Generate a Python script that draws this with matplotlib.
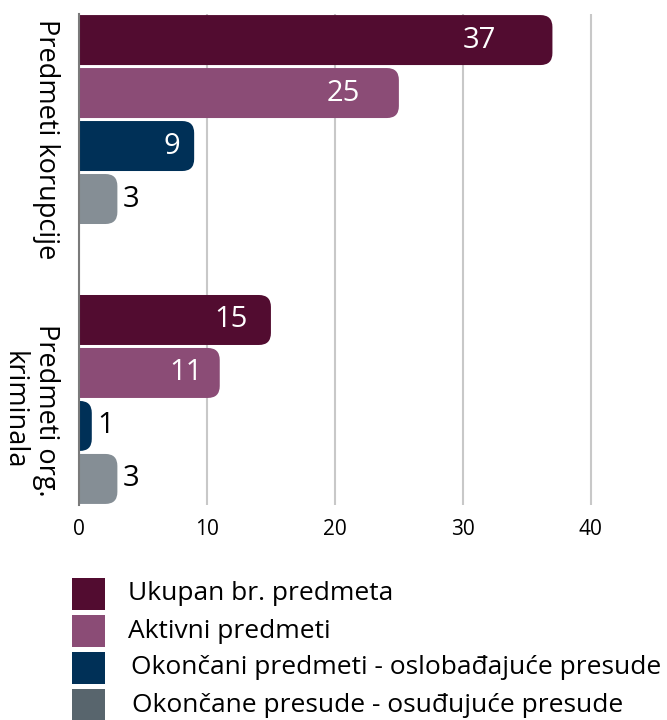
import numpy as np
import matplotlib
matplotlib.use("Agg")
import matplotlib.pyplot as plt
from matplotlib.patches import FancyBboxPatch, Rectangle

plt.rcParams["font.family"] = ["Open Sans", "DejaVu Sans"]

# data
groups = ["Predmeti korupcije", "Predmeti org.\nkriminala"]
series = [
    "Ukupan br. predmeta",
    "Aktivni predmeti",
    "Okončani predmeti - oslobađajuće presude",
    "Okončane presude - osuđujuće presude",
]
values = [
    [37, 15],
    [25, 11],
    [9, 1],
    [3, 3],
]
bar_colors = ["#520c30", "#8b4c76", "#003057", "#858e95"]
legend_colors = ["#520c30", "#8b4c76", "#003057", "#58656d"]
x_ticks = [0, 10, 20, 30, 40]

W, H = 667, 720
fig = plt.figure(figsize=(W / 100, H / 100), dpi=100)
ax_left, ax_right, ax_top, ax_bot = 79, 642, 14, 505
ax = fig.add_axes([ax_left / W, 1 - ax_bot / H, (ax_right - ax_left) / W, (ax_bot - ax_top) / H])

xmax = 44
ylim = (1.377, -0.377)
ax.set_xlim(0, xmax)
ax.set_ylim(*ylim)

slot = 53 / 280
bar_h = 50 / 280
px_x = (ax_right - ax_left) / xmax              # pixels per x unit
px_y = (ax_bot - ax_top) / (ylim[0] - ylim[1])  # pixels per y unit
radius_px = 12
r = radius_px / px_x
aspect = px_x / px_y

for i, (name, vals) in enumerate(zip(series, values)):
    for g, v in enumerate(vals):
        yc = g + (i - 1.5) * slot
        y0 = yc - bar_h / 2
        # box starts left of the axis so only the right corners show rounded
        box = FancyBboxPatch((-r, y0), v + r, bar_h,
                             boxstyle=f"round,pad=0,rounding_size={r}",
                             mutation_aspect=aspect, fc=bar_colors[i],
                             ec="none", zorder=3)
        ax.add_patch(box)
        if v >= 5:
            ax.text(0.88 * v, yc, str(v), ha="right", va="center",
                    color="white", fontsize=21, zorder=4)
        else:
            ax.text(v + 0.4, yc, str(v), ha="left", va="center",
                    color="black", fontsize=21, zorder=4)

ax.set_xticks(x_ticks)
ax.set_xticklabels([str(t) for t in x_ticks], fontsize=15)
ax.tick_params(axis="x", length=0, pad=10)
ax.grid(axis="x", color="#c8c8c8", lw=1.5, zorder=0)
ax.set_axisbelow(True)

ax.set_yticks([0.07, 1.04])
ax.set_yticklabels(groups, rotation=-90, fontsize=19.5, va="center",
                   ha="center", multialignment="center")
ax.tick_params(axis="y", length=0, pad=14)
for lbl in ax.get_yticklabels():
    lbl.set_horizontalalignment("right")

for s in ["top", "right", "bottom"]:
    ax.spines[s].set_visible(False)
ax.spines["left"].set_color("#7a7a7a")
ax.spines["left"].set_linewidth(1.5)
ax.spines["left"].set_zorder(5)

# legend built by hand
row_y = [594, 631, 668, 705]
text_x = [128, 128, 131, 132]
for name, col, yy, tx in zip(series, legend_colors, row_y, text_x):
    fig.add_artist(Rectangle((72 / W, 1 - (yy + 16) / H), 33 / W, 32 / H,
                             transform=fig.transFigure, fc=col, ec="none"))
    fig.text(tx / W, 1 - yy / H, name, ha="left", va="center", fontsize=19)

fig.savefig("out.png", dpi=100)
